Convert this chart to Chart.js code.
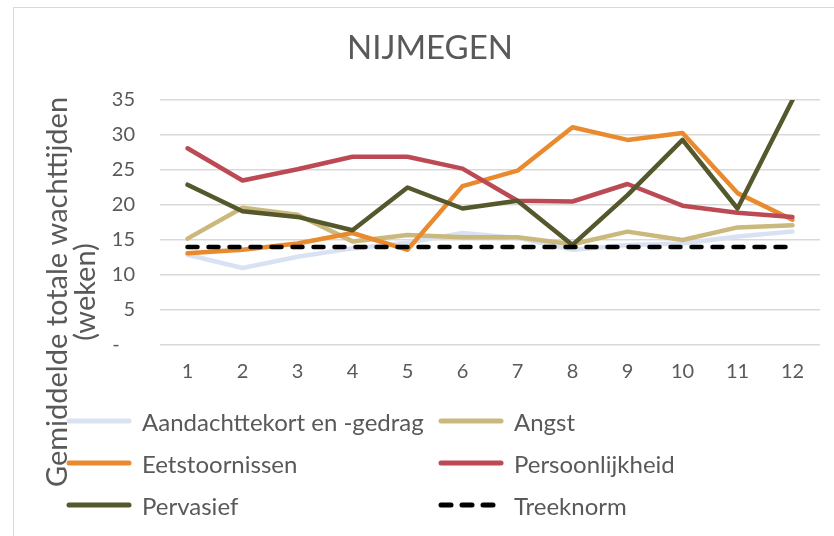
<!DOCTYPE html>
<html>
<head>
<meta charset="utf-8">
<script src="https://cdn.jsdelivr.net/npm/chart.js@4/dist/chart.umd.min.js"></script>
<style>
  body { margin: 0; background: #fff; }
  #wrap { position: relative; width: 834px; height: 536px; overflow: hidden; font-family: Lato, "Open Sans", sans-serif; }
  #frame { position: absolute; left: 13px; top: 7px; width: 900px; height: 600px; border: 1px solid #d9d9d9; }
  #legend { position: absolute; left: 66px; top: 405px; display: grid; grid-template-columns: 372px 300px; row-gap: 10px; }
  .item { display: flex; align-items: center; height: 32px; color: #595959; font-size: 24px; }
  .item svg { margin-right: 10px; }
</style>
</head>
<body>
<div id="wrap">
  <div id="frame"></div>
  <canvas id="chart" width="834" height="536"></canvas>
  <div id="legend"></div>
</div>
<script>
const labels = ['1', '2', '3', '4', '5', '6', '7', '8', '9', '10', '11', '12'];
const aandacht = [12.9, 11.0, 12.6, 13.8, 14.6, 16.0, 15.3, 13.6, 14.3, 14.5, 15.5, 16.2];
const angst = [15.2, 19.6, 18.6, 14.8, 15.7, 15.4, 15.4, 14.4, 16.2, 15.0, 16.8, 17.1];
const eet = [13.1, 13.6, 14.5, 16.0, 13.6, 22.7, 24.9, 31.1, 29.3, 30.3, 21.7, 17.9];
const pers = [28.1, 23.5, 25.1, 26.9, 26.9, 25.2, 20.6, 20.5, 23.0, 19.9, 18.9, 18.3];
const perv = [22.9, 19.1, 18.3, 16.4, 22.5, 19.5, 20.6, 14.3, 21.4, 29.3, 19.5, 35.0];
const treeknorm = [14, 14, 14, 14, 14, 14, 14, 14, 14, 14, 14, 14];

const title = 'NIJMEGEN';
const yTitleLines = ['Gemiddelde totale wachttijden', '(weken)'];

const textColor = '#595959';
const fontFamily = 'Lato, "Open Sans", sans-serif';

function series(label, data, color, order, dash) {
  return {
    label: label,
    data: data,
    borderColor: color,
    backgroundColor: color,
    borderWidth: 4.5,
    borderDash: dash || [],
    borderCapStyle: 'round',
    borderJoinStyle: 'round',
    pointRadius: 0,
    tension: 0,
    order: order
  };
}

// Excel places the titles a little off the canvas centre, so draw them by hand
const titles = {
  id: 'titles',
  afterDraw(chart) {
    const ctx = chart.ctx;
    ctx.save();
    ctx.fillStyle = textColor;
    ctx.textAlign = 'center';
    ctx.textBaseline = 'middle';
    ctx.font = '33px ' + fontFamily;
    ctx.fillText(title, 430, 48);
    // axis title is centred on the whole plot block, legend included
    ctx.textBaseline = 'alphabetic';
    ctx.font = '29px ' + fontFamily;
    ctx.translate(0, 292);
    ctx.rotate(-Math.PI / 2);
    ctx.fillText(yTitleLines[0], 0, 67);
    ctx.fillText(yTitleLines[1], 0, 95);
    ctx.restore();
  }
};

const chart = new Chart(document.getElementById('chart'), {
  type: 'line',
  data: {
    labels: labels,
    datasets: [
      series('Aandachttekort en -gedrag', aandacht, '#d9e2f3', 6),
      series('Angst', angst, '#cbb87c', 5),
      series('Eetstoornissen', eet, '#ea8a2f', 4),
      series('Persoonlijkheid', pers, '#bc4a54', 3),
      series('Pervasief', perv, '#55582c', 2),
      series('Treeknorm', treeknorm, '#000000', 1, [10, 11])
    ]
  },
  options: {
    responsive: false,
    animation: false,
    layout: { padding: { top: 100, right: 14, bottom: 137, left: 0 } },
    plugins: {
      legend: { display: false },
      tooltip: { enabled: false },
      title: { display: false }
    },
    scales: {
      x: {
        offset: true,
        grid: { display: false, drawTicks: false },
        border: { display: false },
        ticks: { color: textColor, font: { family: fontFamily, size: 20 }, padding: 15 }
      },
      y: {
        min: 0,
        max: 35,
        afterFit(scale) { scale.width = 160; },
        grid: { color: '#d9d9d9', lineWidth: 1.5, drawTicks: false },
        border: { display: false },
        ticks: {
          stepSize: 5,
          padding: 25,
          color: textColor,
          font: { family: fontFamily, size: 20 },
          callback: (v) => v === 0 ? '-   ' : v
        }
      }
    }
  },
  plugins: [titles]
});

// two-column legend like the Excel original
const legend = document.getElementById('legend');
chart.data.datasets.forEach((ds) => {
  const item = document.createElement('div');
  item.className = 'item';
  const dash = ds.borderDash.length ? ' stroke-dasharray="10 11"' : '';
  item.innerHTML = '<svg width="66" height="10"><line x1="3" y1="5" x2="' + (ds.borderDash.length ? 60 : 63) +
    '" y2="5" stroke="' + ds.borderColor + '" stroke-width="5" stroke-linecap="round"' + dash + '/></svg>' +
    '<span>' + ds.label + '</span>';
  legend.appendChild(item);
});
</script>
</body>
</html>
